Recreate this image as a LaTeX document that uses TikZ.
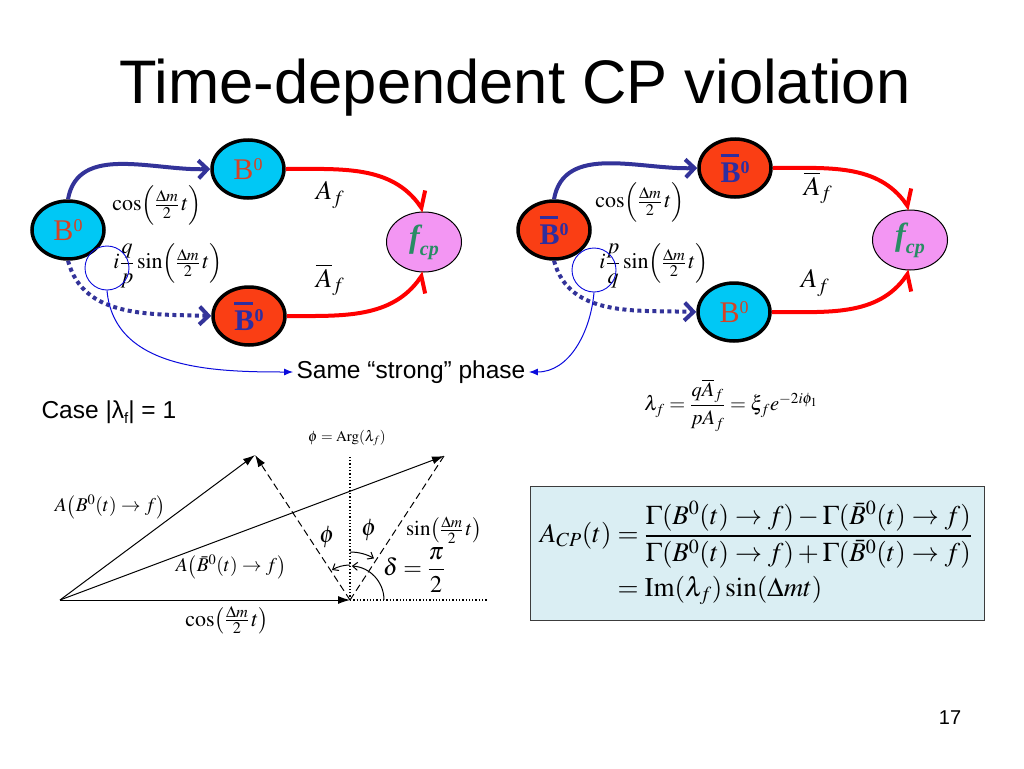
\documentclass[tikz,border=0pt]{standalone}
\usepackage{amsmath}
\usepackage{mathptmx}
\usepackage[no-math]{fontspec}
\setmainfont{Liberation Sans}
\newfontfamily\tnr{Liberation Serif}
\usetikzlibrary{
    arrows.meta,
    shapes.geometric,
    calc,
    positioning
}

\definecolor{bcyan}{RGB}{0,200,245}
\definecolor{bred}{RGB}{250,62,20}
\definecolor{btxt}{RGB}{214,66,36}
\definecolor{bbtxt}{RGB}{46,46,160}
\definecolor{mixblue}{RGB}{51,51,153}
\definecolor{decred}{RGB}{255,0,0}
\definecolor{fpink}{RGB}{243,150,243}
\definecolor{ftxt}{RGB}{40,140,100}
\definecolor{linkblue}{RGB}{10,10,220}
\definecolor{boxfill}{RGB}{218,238,243}
\definecolor{boxline}{RGB}{60,60,60}

\newcommand{\Bz}{{\tnr B\raisebox{0.3em}{\fontsize{18}{18}\selectfont 0}}}
\newcommand{\Bzbar}{{\tnr\bfseries\rlap{\raisebox{0.86em}{\rule{0.62em}{0.1em}}}B\raisebox{0.3em}{\fontsize{18}{18}\selectfont 0}}}
\newcommand{\fcp}{{\tnr\bfseries\itshape f\raisebox{-0.25em}{\fontsize{20}{20}\selectfont cp}}}
\newcommand{\osc}{\Bigl(\tfrac{\Delta m}{2}\,t\Bigr)}
\newcommand{\oscv}{\bigl(\tfrac{\Delta m}{2}\,t\bigr)}

\begin{document}
\begin{tikzpicture}[x=1pt,y=-1pt,
    meson/.style={ellipse, draw=black, line width=3.5pt, minimum width=72pt,
        minimum height=58pt, inner sep=0pt, font=\fontsize{30}{30}\selectfont},
    bz/.style={meson, fill=bcyan, text=btxt},
    bzbar/.style={meson, fill=bred, text=bbtxt},
    final/.style={ellipse, draw=black, line width=1pt, fill=fpink, text=ftxt,
        minimum width=75pt, minimum height=60pt, inner sep=0pt,
        font=\fontsize{32}{32}\selectfont},
    mix/.style={draw=mixblue, line width=4pt, -{Straight Barb[length=9pt,width=18pt]}},
    mixdot/.style={mix, dash pattern=on 4pt off 3.5pt},
    decay/.style={draw=decred, line width=4pt},
    lbl/.style={font=\fontsize{22}{22}\selectfont, inner sep=1pt},
    amp/.style={font=\fontsize{27}{27}\selectfont, inner sep=1pt},
    ring/.style={circle, draw=linkblue, line width=0.9pt, minimum size=44pt, inner sep=0pt},
    link/.style={draw=linkblue, line width=1pt, -{Latex[length=9pt,width=7pt]}},
    vec/.style={line width=1pt, -{Latex[length=12pt,width=8pt]}},
    longdash/.style={line width=1pt, dash pattern=on 7pt off 4pt},
    turn/.style={line width=1pt, -{Straight Barb[length=5pt,width=8pt]}},
    small/.style={font=\fontsize{19.5}{19.5}\selectfont, inner sep=1pt}
  ]
\useasboundingbox (0,0) rectangle (1024,768);

\node[font=\fontsize{61.5}{70}\selectfont] (title) at (515,88) {Time-dependent CP violation};

% B0 at t=0
\node[bz] (bl) at (68,230) {\Bz};
\node[bz] (bt) at (248,169) {\Bz};
\node[bzbar] (bbb) at (249,316) {\Bzbar};
\node[final] (fl) at (424,242) {\fcp};
\node[lbl] (cosl) at (157,205) {$\cos\osc$};
\node[lbl] (sinl) at (168,266) {$i\dfrac{q}{p}\sin\osc$};
\node[amp] (afl) at (330,195) {$A_f$};
\node[amp] (abfl) at (330,280) {$\overline{A}_f$};
\node[ring] (ringl) at (107,268) {};
\draw
  (bl.north) edge[mix, out=80, in=182] (bt.west)
  (bl.south) edge[mixdot, out=-75, in=178] (bbb.west)
  (bt.east) edge[decay, -{Straight Barb[left,length=12pt,width=26pt]}, out=0, in=125] (fl.north)
  (bbb.east) edge[decay, -{Straight Barb[right,length=12pt,width=26pt]}, out=0, in=-125] (fl.south);

% anti-B0 at t=0
\node[bzbar] (bbl) at (554,230) {\Bzbar};
\node[bzbar] (bbt) at (735,168) {\Bzbar};
\node[bz] (bb) at (734,312) {\Bz};
\node[final] (fr) at (910,240) {\fcp};
\node[lbl] (cosr) at (640,202) {$\cos\osc$};
\node[lbl] (sinr) at (654,266) {$i\dfrac{p}{q}\sin\osc$};
\node[amp] (abfr) at (818,188) {$\overline{A}_f$};
\node[amp] (afr) at (815,283) {$A_f$};
\node[ring] (ringr) at (594,270) {};
\draw
  (bbl.north) edge[mix, out=80, in=182] (bbt.west)
  (bbl.south) edge[mixdot, out=-75, in=178] (bb.west)
  (bbt.east) edge[decay, -{Straight Barb[left,length=12pt,width=26pt]}, out=0, in=125] (fr.north)
  (bb.east) edge[decay, -{Straight Barb[right,length=12pt,width=26pt]}, out=0, in=-125] (fr.south);

\node[font=\fontsize{24.5}{26}\selectfont] (same) at (411,372) {Same “strong” phase};
\draw
  (ringl.south) edge[link, out=-85, in=180] (same.west)
  (ringr.south) edge[link, out=-95, in=0] (same.east);

\node[font=\fontsize{20.5}{20.5}\selectfont] (lam) at (731,405)
  {$\lambda_f=\dfrac{q\overline{A}_f}{pA_f}=\xi_f e^{-2i\phi_1}$};
\node[font=\fontsize{24.5}{26}\selectfont, anchor=west] (case) at (38,412)
  {Case |λ\raisebox{-0.22em}{\fontsize{15}{15}\selectfont f}| = 1};

% phasor picture
\coordinate (o) at (60,600);
\coordinate (c) at (350,600);
\coordinate (p1) at (255,455);
\coordinate (p2) at (444,456);
\coordinate (v) at (350,455);
\coordinate (h) at (487,600);
\draw[vec] (o) -- (p1);
\draw[vec] (o) -- (p2);
\draw[vec] (o) -- (c);
\draw[vec, longdash] (c) -- (p1);
\draw[longdash] (c) -- (p2);
\draw[line width=1.3pt, dotted] (c) -- (v);
\draw[line width=1.3pt, dotted] (c) -- (h);
\draw[turn] ($(c)+(0,-35)$) arc[start angle=-90, end angle=-121, radius=35];
\draw[turn] ($(c)+(0,-48)$) arc[start angle=-90, end angle=-60, radius=48];
\draw[turn] ($(c)+(34,0)$) arc[start angle=0, end angle=-87, radius=34];

\node[font=\fontsize{15}{15}\selectfont] (arg) at (347,438) {$\phi=\mathrm{Arg}(\lambda_f)$};
\node[small] (ab) at (110,507) {$A\bigl(B^0(t)\to f\bigr)$};
\node[small] (abb) at (231,567) {$A\bigl(\bar{B}^0(t)\to f\bigr)$};
\node[font=\fontsize{22}{22}\selectfont] (cosv) at (227,620) {$\cos\oscv$};
\node[font=\fontsize{21}{21}\selectfont] (sinv) at (444,530) {$\sin\oscv$};
\node[font=\fontsize{24}{24}\selectfont] (phil) at (327,537) {$\phi$};
\node[font=\fontsize{24}{24}\selectfont] (phir) at (369,530) {$\phi$};
\node[font=\fontsize{24}{24}\selectfont] (dlt) at (414,570) {$\delta=\dfrac{\pi}{2}$};

% asymmetry
\node[draw=boxline, line width=1.2pt, fill=boxfill, minimum width=454pt,
  minimum height=134pt, anchor=north west] (box) at (530,486) {};
\node[font=\fontsize{27}{27}\selectfont] (acp) at (756,553)
  {$\begin{aligned}A_{CP}(t)&=\dfrac{\Gamma(B^0(t)\to f)-\Gamma(\bar{B}^0(t)\to f)}{\Gamma(B^0(t)\to f)+\Gamma(\bar{B}^0(t)\to f)}\\[4pt]
  &=\mathrm{Im}(\lambda_f)\sin(\Delta m t)\end{aligned}$};

\node[font=\fontsize{20}{20}\selectfont] (pg) at (950,718) {17};
\end{tikzpicture}
\end{document}
